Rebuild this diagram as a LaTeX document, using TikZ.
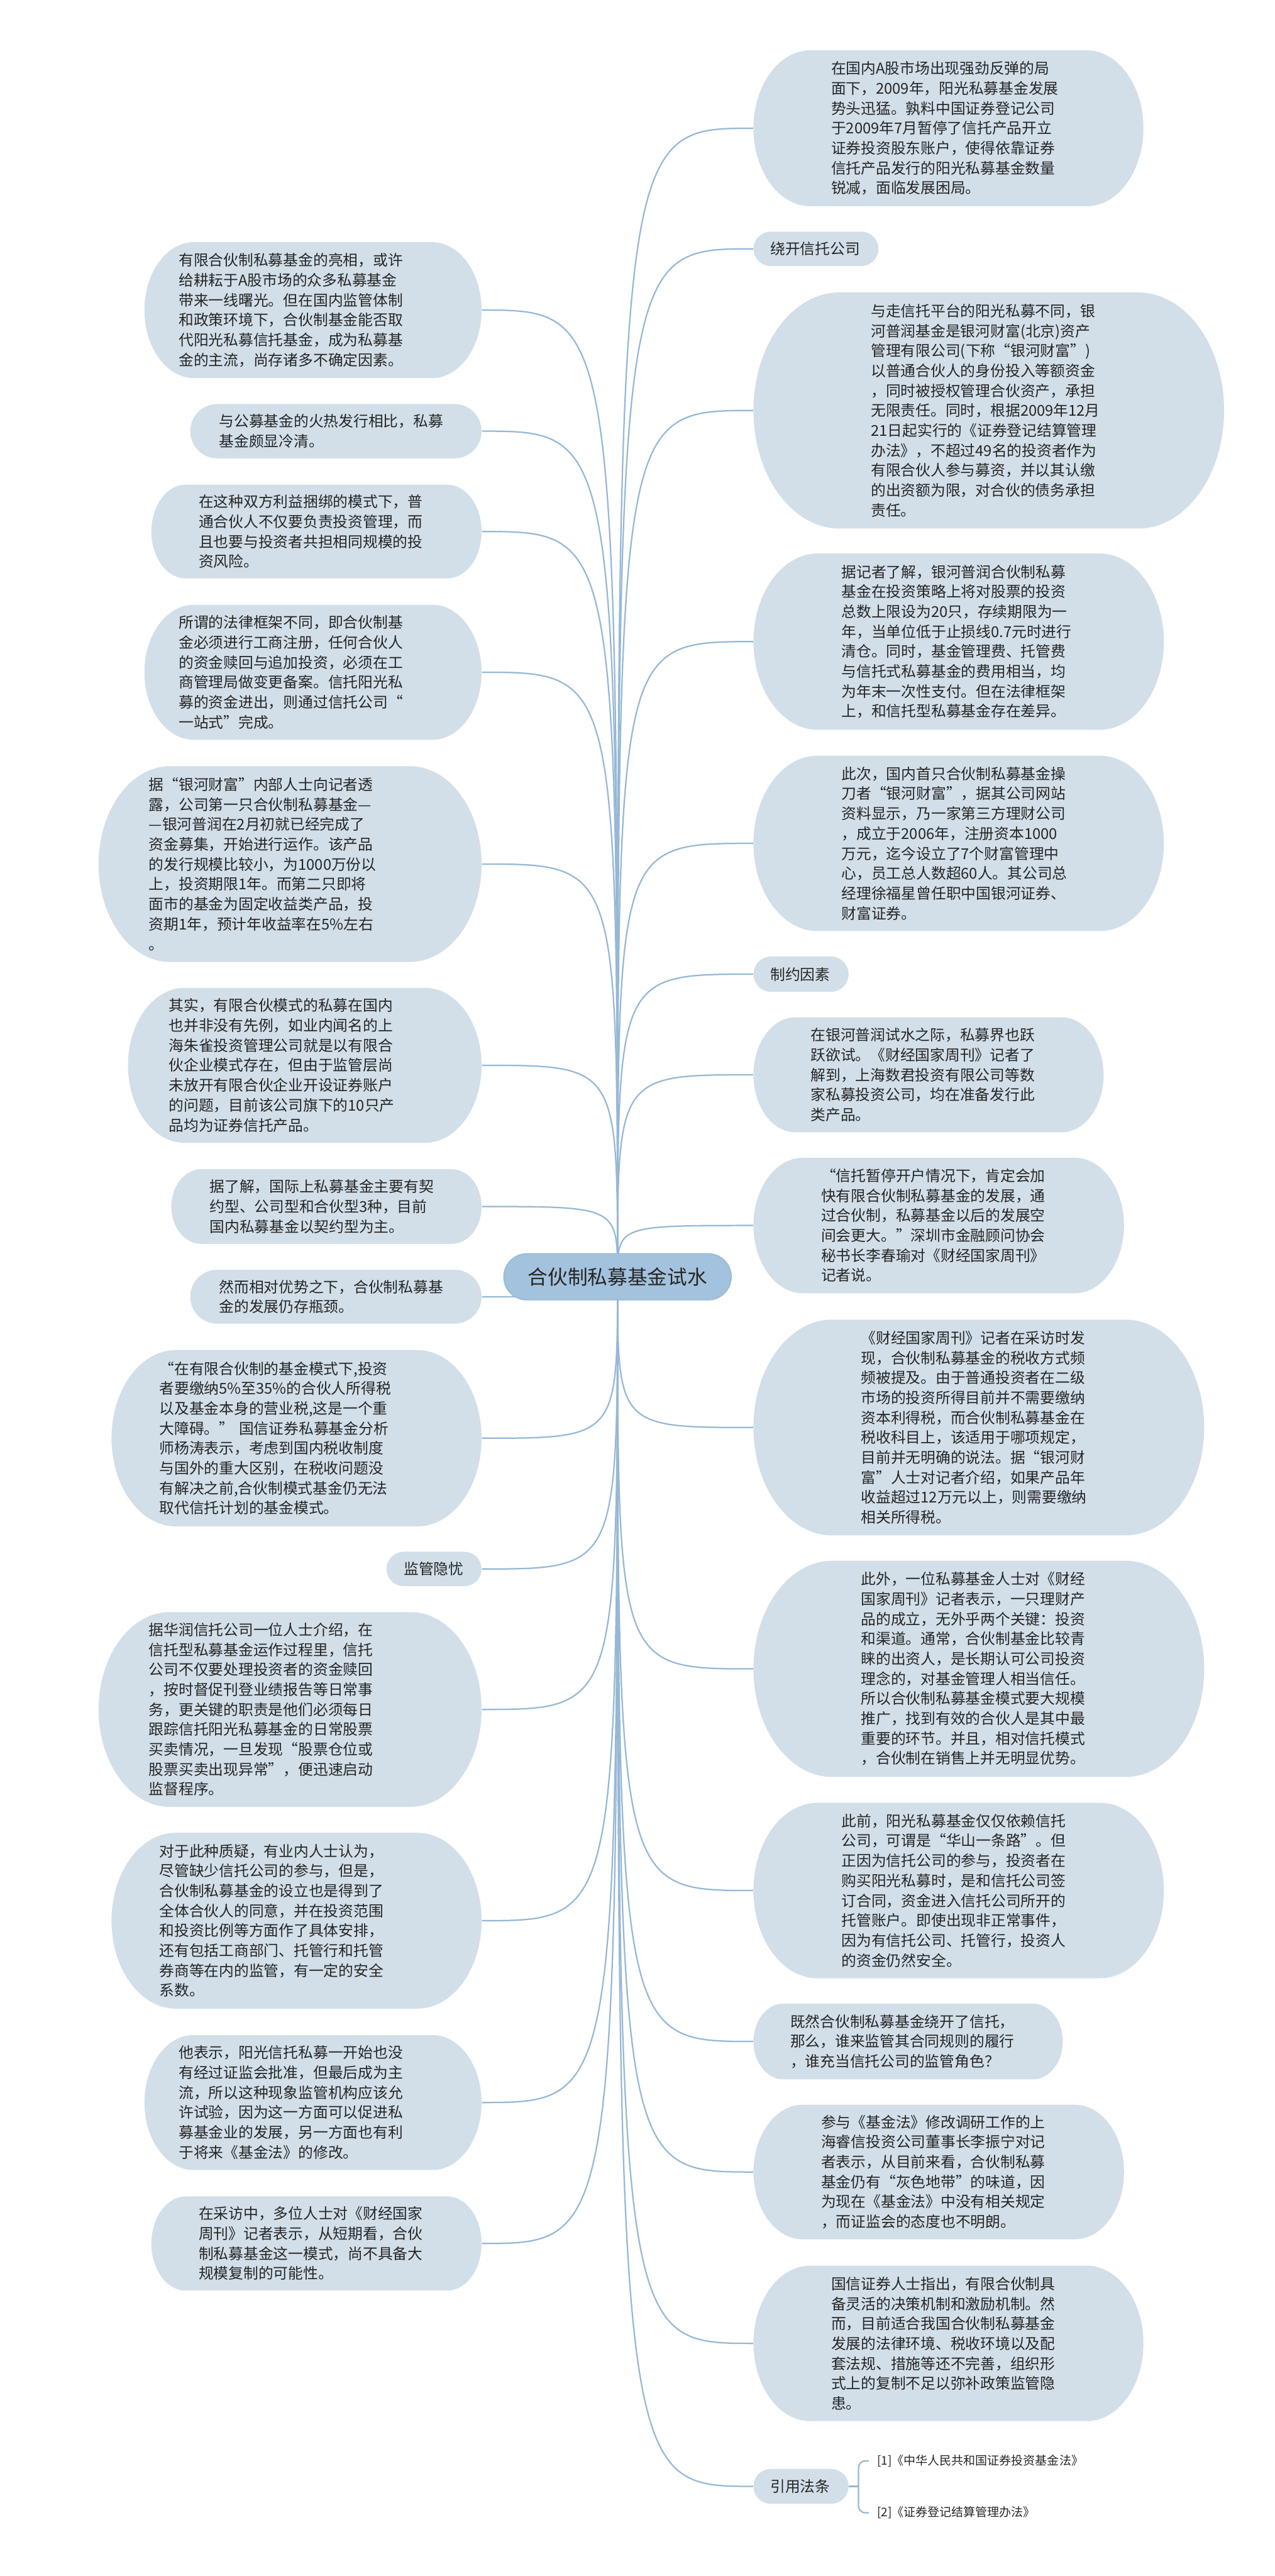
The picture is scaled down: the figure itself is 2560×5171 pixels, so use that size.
\documentclass[tikz,border=0pt]{standalone}
\usepackage{fontspec}
\setmainfont{Noto Sans CJK SC}
\usetikzlibrary{calc,backgrounds}
\definecolor{boxfill}{HTML}{D2DFE9}
\definecolor{cfill}{HTML}{A3C2DD}
\definecolor{cborder}{HTML}{95B7D5}
\definecolor{linec}{HTML}{96B8D6}
\definecolor{txt}{HTML}{262626}
\tikzset{
  pill/.style={inner sep=0pt, align=left, font=\fontsize{9}{12}\selectfont, text=txt,
    path picture={\fill[boxfill] let \p1=(path picture bounding box.north west),
      \p2=(path picture bounding box.south east), \n1={(\y1-\y2)/2},
      \n2={max(0.73*\n1,min(\n1,18pt))} in
      (\x1+\n2,\y1) -- (\x2-\n2,\y1)
      arc[start angle=90,end angle=-90,x radius=\n2,y radius=\n1]
      -- (\x1+\n2,\y2)
      arc[start angle=270,end angle=90,x radius=\n2,y radius=\n1] -- cycle;}},
  conn/.style={draw=linec, line width=0.85pt},
  reftext/.style={font=\fontsize{7.2}{9}\selectfont, text=txt, inner xsep=4.8pt, inner ysep=0pt, anchor=west},
  centernode/.style={fill=cfill, draw=cborder, line width=0.5pt, rounded corners=13.9pt,
    font=\fontsize{12}{14}\selectfont, text=txt, inner sep=0pt,
    minimum width=137.1pt, minimum height=27.9pt}
}
\newcommand\mmnode[7]{%
  \pgfmathsetmacro\mmcx{(#2+#3)/2}%
  \pgfmathsetmacro\mmcy{(#4+#5)/2}%
  \pgfmathsetmacro\mmw{(#3-#2)*0.3}%
  \pgfmathsetmacro\mmh{(#5-#4)*0.3}%
  \pgfmathsetmacro\mmtw{(#3+#2-2*#6)*0.3}%
  \node[pill, minimum width=\mmw pt, minimum height=\mmh pt, text width=\mmtw pt] (#1) at (\mmcx,\mmcy) {#7};}
\begin{document}
\begin{tikzpicture}[x=0.3pt,y=-0.3pt]
\useasboundingbox (0,0) rectangle (2560,5171);

\node[centernode] (C) at (1240,2563) {合伙制私募基金试水};

% ---------- left side ----------
\mmnode{l1}{290}{967}{486}{759}{359}{有限合伙制私募基金的亮相，或许\\给耕耘于A股市场的众多私募基金\\带来一线曙光。但在国内监管体制\\和政策环境下，合伙制基金能否取\\代阳光私募信托基金，成为私募基\\金的主流，尚存诸多不确定因素。}
\mmnode{l2}{382}{967}{811}{920}{440}{与公募基金的火热发行相比，私募\\基金颇显冷清。}
\mmnode{l3}{304}{967}{973}{1161}{399}{在这种双方利益捆绑的模式下，普\\通合伙人不仅要负责投资管理，而\\且也要与投资者共担相同规模的投\\资风险。}
\mmnode{l4}{290}{967}{1214}{1485}{359}{所谓的法律框架不同，即合伙制基\\金必须进行工商注册，任何合伙人\\的资金赎回与追加投资，必须在工\\商管理局做变更备案。信托阳光私\\募的资金进出，则通过信托公司“\\一站式”完成。}
\mmnode{l5}{198}{967}{1538}{1931}{299}{据“银河财富”内部人士向记者透\\露，公司第一只合伙制私募基金—\\—银河普润在2月初就已经完成了\\资金募集，开始进行运作。该产品\\的发行规模比较小，为1000万份以\\上，投资期限1年。而第二只即将\\面市的基金为固定收益类产品，投\\资期1年，预计年收益率在5\%左右\\。}
\mmnode{l6}{257}{967}{1983}{2294}{339}{其实，有限合伙模式的私募在国内\\也并非没有先例，如业内闻名的上\\海朱雀投资管理公司就是以有限合\\伙企业模式存在，但由于监管层尚\\未放开有限合伙企业开设证券账户\\的问题，目前该公司旗下的10只产\\品均为证券信托产品。}
\mmnode{l7}{344}{967}{2347}{2497}{421}{据了解，国际上私募基金主要有契\\约型、公司型和合伙型3种，目前\\国内私募基金以契约型为主。}
\mmnode{l8}{382}{967}{2549}{2657}{440}{然而相对优势之下，合伙制私募基\\金的发展仍存瓶颈。}
\mmnode{l9}{224}{967}{2710}{3064}{320}{“在有限合伙制的基金模式下,投资\\者要缴纳5\%至35\%的合伙人所得税\\以及基金本身的营业税,这是一个重\\大障碍。”\ 国信证券私募基金分析\\师杨涛表示，考虑到国内税收制度\\与国外的重大区别，在税收问题没\\有解决之前,合伙制模式基金仍无法\\取代信托计划的基金模式。}
\mmnode{la}{776}{967}{3115}{3184}{811}{监管隐忧}
\mmnode{l10}{198}{967}{3236}{3627}{299}{据华润信托公司一位人士介绍，在\\信托型私募基金运作过程里，信托\\公司不仅要处理投资者的资金赎回\\，按时督促刊登业绩报告等日常事\\务，更关键的职责是他们必须每日\\跟踪信托阳光私募基金的日常股票\\买卖情况，一旦发现“股票仓位或\\股票买卖出现异常”，便迅速启动\\监督程序。}
\mmnode{l11}{224}{967}{3679}{4032}{320}{对于此种质疑，有业内人士认为，\\尽管缺少信托公司的参与，但是，\\合伙制私募基金的设立也是得到了\\全体合伙人的同意，并在投资范围\\和投资比例等方面作了具体安排，\\还有包括工商部门、托管行和托管\\券商等在内的监管，有一定的安全\\系数。}
\mmnode{l12}{290}{967}{4085}{4356}{359}{他表示，阳光信托私募一开始也没\\有经过证监会批准，但最后成为主\\流，所以这种现象监管机构应该允\\许试验，因为这一方面可以促进私\\募基金业的发展，另一方面也有利\\于将来《基金法》的修改。}
\mmnode{l13}{304}{967}{4409}{4598}{399}{在采访中，多位人士对《财经国家\\周刊》记者表示，从短期看，合伙\\制私募基金这一模式，尚不具备大\\规模复制的可能性。}

% ---------- right side ----------
\mmnode{r1}{1513}{2296}{101}{414}{1669}{在国内A股市场出现强劲反弹的局\\面下，2009年，阳光私募基金发展\\势头迅猛。孰料中国证券登记公司\\于2009年7月暂停了信托产品开立\\证券投资股东账户，使得依靠证券\\信托产品发行的阳光私募基金数量\\锐减，面临发展困局。}
\mmnode{ra}{1513}{1764}{465}{534}{1547}{绕开信托公司}
\mmnode{r2}{1513}{2458}{587}{1061}{1749}{与走信托平台的阳光私募不同，银\\河普润基金是银河财富(北京)资产\\管理有限公司(下称“银河财富”)\\以普通合伙人的身份投入等额资金\\，同时被授权管理合伙资产，承担\\无限责任。同时，根据2009年12月\\21日起实行的《证券登记结算管理\\办法》，不超过49名的投资者作为\\有限合伙人参与募资，并以其认缴\\的出资额为限，对合伙的债务承担\\责任。}
\mmnode{r3}{1513}{2337}{1111}{1465}{1690}{据记者了解，银河普润合伙制私募\\基金在投资策略上将对股票的投资\\总数上限设为20只，存续期限为一\\年，当单位低于止损线0.7元时进行\\清仓。同时，基金管理费、托管费\\与信托式私募基金的费用相当，均\\为年末一次性支付。但在法律框架\\上，和信托型私募基金存在差异。}
\mmnode{r4}{1513}{2337}{1517}{1869}{1690}{此次，国内首只合伙制私募基金操\\刀者“银河财富”，据其公司网站\\资料显示，乃一家第三方理财公司\\，成立于2006年，注册资本1000\\万元，迄今设立了7个财富管理中\\心，员工总人数超60人。其公司总\\经理徐福星曾任职中国银河证券、\\财富证券。}
\mmnode{rb}{1513}{1704}{1920}{1991}{1547}{制约因素}
\mmnode{r5}{1513}{2216}{2042}{2273}{1628}{在银河普润试水之际，私募界也跃\\跃欲试。《财经国家周刊》记者了\\解到，上海数君投资有限公司等数\\家私募投资公司，均在准备发行此\\类产品。}
\mmnode{r6}{1513}{2257}{2324}{2596}{1649}{“信托暂停开户情况下，肯定会加\\快有限合伙制私募基金的发展，通\\过合伙制，私募基金以后的发展空\\间会更大。”深圳市金融顾问协会\\秘书长李春瑜对《财经国家周刊》\\记者说。}
\mmnode{r7}{1513}{2418}{2649}{3082}{1729}{《财经国家周刊》记者在采访时发\\现，合伙制私募基金的税收方式频\\频被提及。由于普通投资者在二级\\市场的投资所得目前并不需要缴纳\\资本利得税，而合伙制私募基金在\\税收科目上，该适用于哪项规定，\\目前并无明确的说法。据“银河财\\富”人士对记者介绍，如果产品年\\收益超过12万元以上，则需要缴纳\\相关所得税。}
\mmnode{r8}{1513}{2418}{3133}{3567}{1729}{此外，一位私募基金人士对《财经\\国家周刊》记者表示，一只理财产\\品的成立，无外乎两个关键：投资\\和渠道。通常，合伙制基金比较青\\睐的出资人，是长期认可公司投资\\理念的，对基金管理人相当信任。\\所以合伙制私募基金模式要大规模\\推广，找到有效的合伙人是其中最\\重要的环节。并且，相对信托模式\\，合伙制在销售上并无明显优势。}
\mmnode{r9}{1513}{2337}{3619}{3971}{1690}{此前，阳光私募基金仅仅依赖信托\\公司，可谓是“华山一条路”。但\\正因为信托公司的参与，投资者在\\购买阳光私募时，是和信托公司签\\订合同，资金进入信托公司所开的\\托管账户。即使出现非正常事件，\\因为有信托公司、托管行，投资人\\的资金仍然安全。}
\mmnode{r10}{1513}{2134}{4022}{4174}{1587}{既然合伙制私募基金绕开了信托，\\那么，谁来监管其合同规则的履行\\，谁充当信托公司的监管角色？}
\mmnode{r11}{1513}{2257}{4225}{4495}{1649}{参与《基金法》修改调研工作的上\\海睿信投资公司董事长李振宁对记\\者表示，从目前来看，合伙制私募\\基金仍有“灰色地带”的味道，因\\为现在《基金法》中没有相关规定\\，而证监会的态度也不明朗。}
\mmnode{r12}{1513}{2296}{4548}{4860}{1669}{国信证券人士指出，有限合伙制具\\备灵活的决策机制和激励机制。然\\而，目前适合我国合伙制私募基金\\发展的法律环境、税收环境以及配\\套法规、措施等还不完善，组织形\\式上的复制不足以弥补政策监管隐\\患。}
\mmnode{rc}{1513}{1704}{4956}{5026}{1547}{引用法条}

\node[reftext] (f1) at (1745,4940) {[1]《中华人民共和国证券投资基金法》};
\node[reftext] (f2) at (1745,5044) {[2]《证券登记结算管理办法》};
\coordinate (fork) at (1724,4991);

% ---------- connectors (behind the nodes) ----------
\begin{pgfonlayer}{background}
\fill[white] (0,0) rectangle (2560,5171);
\foreach \n in {l1,l2,l3,l4,l5,l6,l7,l8,l9,la,l10,l11,l12,l13}
  \draw[conn] (C.center) .. controls (C.center |- \n.east) .. (\n.east);
\foreach \n in {r1,ra,r2,r3,r4,rb,r5,r6,r7,r8,r9,r10,r11,r12,rc}
  \draw[conn] (C.center) .. controls (C.center |- \n.west) .. (\n.west);
\draw[conn] (rc.east) -- (fork);
\draw[conn, rounded corners=4pt] (fork) |- (f1.west);
\draw[conn, rounded corners=4pt] (fork) |- (f2.west);
\end{pgfonlayer}
\end{tikzpicture}
\end{document}
